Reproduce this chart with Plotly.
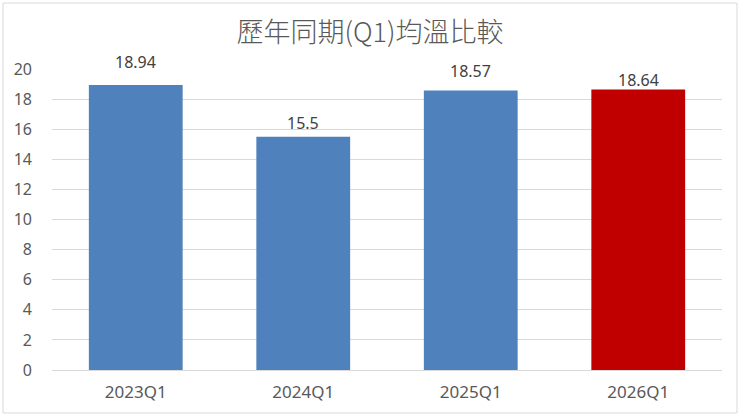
import plotly.graph_objects as go

quarters = ["2023Q1", "2024Q1", "2025Q1", "2026Q1"]
avg_temp = [18.94, 15.5, 18.57, 18.64]
bar_colors = ["#4F81BD", "#4F81BD", "#4F81BD", "#C00000"]
y_ticks = list(range(0, 21, 2))
label_lift = [10, 1, 7, -4]  # px, labels were hand-placed in the original

W, H = 740, 417
L, R, T, B = 52, 18, 69, 47
pw, ph = W - L - R, H - T - B
num_font = "Noto Sans, Open Sans, sans-serif"

fig = go.Figure()
fig.add_trace(go.Bar(
    x=quarters, y=avg_temp,
    marker=dict(color=bar_colors, line=dict(width=0)),
    width=0.56,
    hoverinfo="skip",
))

# value labels
for q, v, dy in zip(quarters, avg_temp, label_lift):
    fig.add_annotation(x=q, y=v, text=f"{v:g}", showarrow=False,
                       yanchor="bottom", yshift=dy,
                       font=dict(family=num_font, size=16, color="#404040"))

fig.update_layout(
    width=W, height=H,
    margin=dict(l=L, r=R, t=T, b=B),
    paper_bgcolor="white", plot_bgcolor="white",
    font=dict(family=num_font, color="#595959"),
    title=dict(text="歷年同期(Q1)均溫比較", x=0.5, xanchor="center",
               y=1 - 33 / H, yanchor="middle",
               font=dict(family="Noto Sans CJK TC, sans-serif", size=27,
                         color="#595959", weight=300)),
    showlegend=False,
)
fig.update_yaxes(range=[0, 20], tickvals=y_ticks, showgrid=True, gridcolor="#D9D9D9",
                 gridwidth=1, zeroline=False, showline=False, ticks="",
                 tickfont=dict(size=16, color="#595959"), ticklabelstandoff=19)
fig.update_xaxes(showline=True, linecolor="#D9D9D9", linewidth=1, ticks="",
                 tickfont=dict(size=17, color="#595959"), ticklabelstandoff=7)

# light outer chart border
fig.add_shape(type="rect", xref="paper", yref="paper",
              x0=(3 - L) / pw, x1=(737 - L) / pw,
              y0=(H - B - 413) / ph, y1=(H - B - 3) / ph,
              line=dict(color="#D9D9D9", width=1), layer="below")

fig.write_html("out.html", config={"displayModeBar": False},
               post_script="document.body.style.margin='0';document.body.style.overflow='hidden';")
